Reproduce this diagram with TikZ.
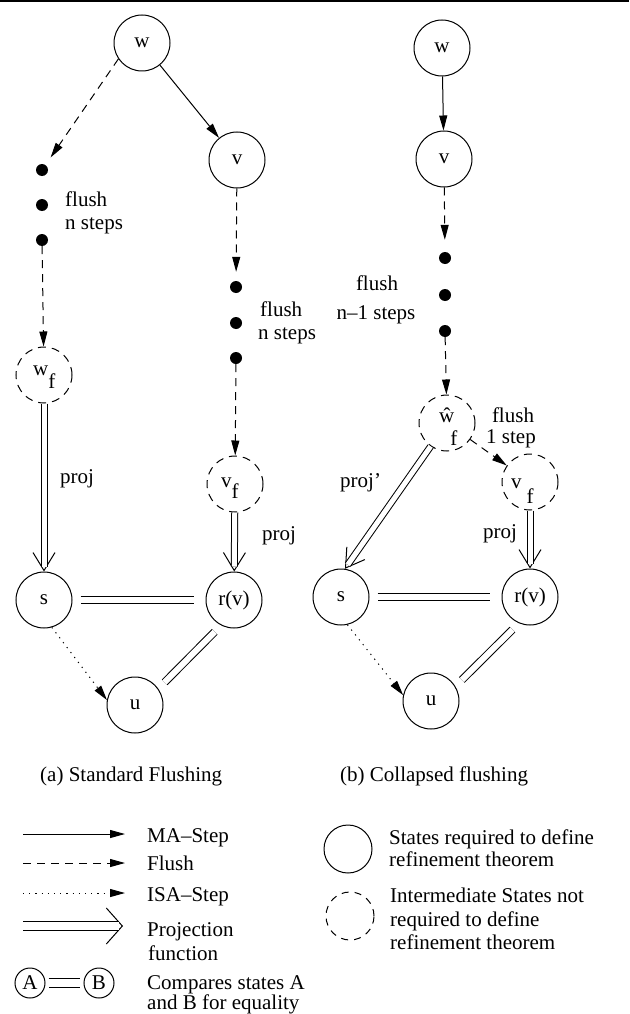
\documentclass[tikz,border=0pt]{standalone}
\usepackage{fontspec}
\setmainfont{Liberation Serif}
\usetikzlibrary{arrows.meta}

\begin{document}
\begin{tikzpicture}[x=1pt, y=-1pt,
  every node/.style={font=\fontsize{21}{23}\selectfont},
  state/.style={circle, draw, line width=1pt, minimum size=56pt, inner sep=0pt},
  istate/.style={state, dash pattern=on 8pt off 6pt},
  keystate/.style={circle, draw, line width=1pt, minimum size=48pt, inner sep=0pt},
  ikeystate/.style={keystate, dash pattern=on 7pt off 6pt},
  small/.style={circle, draw, line width=1pt, minimum size=30pt, inner sep=0pt},
  blob/.style={circle, fill, minimum size=12pt, inner sep=0pt},
  txt/.style={anchor=base west, inner sep=0pt},
  txtc/.style={anchor=base, inner sep=0pt},
  tri/.style={-{Triangle[length=15pt,width=8pt]}},
  ma/.style={line width=1pt, tri},
  flush/.style={line width=1pt, dash pattern=on 8pt off 6pt, tri},
  isa/.style={line width=1pt, dash pattern=on 1.2pt off 5pt, tri},
  eq/.style={line width=1pt, double, double distance=6pt},
  projhead/.style={draw=white, line width=1pt, shorten <=3pt,
    -{Straight Barb[length=18pt,width=22pt,color=black]}},
  projline/.style={line width=1pt, double, double distance=5pt, shorten >=5pt},
]
\useasboundingbox (0,0) rectangle (629,1014);

% rule along the top edge
\draw[line width=2pt] (0,1) -- (629,1);

% ---------------- (a) standard flushing ----------------
\node[state] (lw) at (142,43) {w};
\node[state] (lv) at (237,160) {v};
\node[blob] (ld1) at (42,170) {};
\node[blob] (ld2) at (42,205) {};
\node[blob] (ld3) at (42,240) {};
\node[blob] (lvd1) at (236,287) {};
\node[blob] (lvd2) at (236,323) {};
\node[blob] (lvd3) at (236,358) {};
\node[istate] (lwf) at (44,375) {};
\node[txt] (lwft) at (33,375) {w\raisebox{-13pt}{f}};
\node[istate] (lvf) at (235,484) {};
\node[txt] (lvft) at (221,487) {v\raisebox{-11pt}{f}};
\node[state] (ls) at (44,600) {s};
\node[state] (lr) at (234,600) {r(v)};
\node[state] (lu) at (135,705) {u};

\node[txt] (lfl1) at (65,206) {flush};
\node[txt] (lfl2) at (65,229) {n steps};
\node[txt] (lfr1) at (260,316) {flush};
\node[txt] (lfr2) at (258,339) {n steps};
\node[txt] (lp1) at (60,483) {proj};
\node[txt] (lp2) at (262,540) {proj};

\draw[ma] (lw) -- (lv);
\draw[flush, shorten >=9pt] (lw.214) -- (ld1);
\draw[flush] (ld3) -- (lwf);
\draw[flush, shorten >=9pt] (lv) -- (lvd1);
\draw[flush] (lvd3) -- (lvf);
\draw[projhead] (lwf) -- (ls);
\draw[projline] (lwf) -- (ls);
\draw[projhead] (lvf) -- (lr);
\draw[projline] (lvf) -- (lr);
\draw[eq, shorten <=8pt, shorten >=12pt] (ls) -- (lr);
\draw[eq, shorten <=9pt, shorten >=9pt] (lr.243) -- (lu.35);
\draw[isa] (ls.286) -- (lu.170);

\node[txt] (capa) at (40,781) {(a) Standard Flushing};

% ---------------- (b) collapsed flushing ----------------
\node[state] (rw) at (442,48) {w};
\node[state] (rv) at (444,159) {v};
\node[blob] (rd1) at (445,258) {};
\node[blob] (rd2) at (445,295) {};
\node[blob] (rd3) at (445,331) {};
\node[istate] (rwf) at (447,423) {};
\node[txt] (rwft) at (439,422) {\^{w}\hspace{-4pt}\raisebox{-23pt}{f}};
\node[istate] (rvf) at (530,482) {};
\node[txt] (rvft) at (511,488) {v\hspace{5pt}\raisebox{-15pt}{f}};
\node[state] (rs) at (341,597) {s};
\node[state] (rr) at (530,597) {r(v)};
\node[state] (ru) at (431,701) {u};

\node[txtc] (rfl1) at (377,290) {flush};
\node[txtc] (rfl2) at (376,319) {n--1 steps};
\node[txtc] (rfo1) at (513,422) {flush};
\node[txtc] (rfo2) at (511,443) {1 step};
\node[txt] (rp1) at (340,487) {proj'};
\node[txt] (rp2) at (483,538) {proj};

\draw[ma] (rw) -- (rv);
\draw[flush, shorten >=12pt] (rv) -- (rd1);
\draw[flush] (rd3) -- (rwf);
\draw[flush] (rwf) -- (rvf);
\draw[projhead] (rwf.235) -- (rs.82);
\draw[projline] (rwf.235) -- (rs.82);
\draw[projhead] (rvf) -- (rr);
\draw[projline] (rvf) -- (rr);
\draw[eq, shorten <=8pt, shorten >=12pt] (rs) -- (rr);
\draw[eq, shorten <=9pt, shorten >=9pt] (rr.247) -- (ru.31);
\draw[isa] (rs.283) -- (ru.168);

\node[txt] (capb) at (340,781) {(b) Collapsed flushing};

% ---------------- key ----------------
\coordinate (k1a) at (23,834);  \coordinate (k1b) at (125,834);
\coordinate (k2a) at (23,863);  \coordinate (k2b) at (125,863);
\coordinate (k3a) at (23,893);  \coordinate (k3b) at (125,893);
\coordinate (k4a) at (23,926);  \coordinate (k4b) at (123,926);
\draw[ma] (k1a) -- (k1b);
\draw[flush] (k2a) -- (k2b);
\draw[isa] (k3a) -- (k3b);
\draw[draw=white, line width=1pt, -{Straight Barb[length=16pt,width=36pt,color=black]}] (k4a) -- (k4b);
\draw[line width=1pt, double, double distance=8pt, shorten >=4.5pt] (k4a) -- (k4b);
\node[txt] (kt1) at (147,842) {MA--Step};
\node[txt] (kt2) at (147,870) {Flush};
\node[txt] (kt3) at (147,901) {ISA--Step};
\node[txt] (kt4) at (147,936) {Projection};
\node[txt] (kt5) at (148,960) {function};

\node[small] (ka) at (30,983) {A};
\node[small] (kb) at (99,983) {B};
\draw[line width=1pt, double, double distance=7.5pt, shorten <=3pt, shorten >=4pt] (ka) -- (kb);
\node[txt] (kt6) at (147,989) {Compares states A};
\node[txt] (kt7) at (147,1009) {and B for equality};

\node[keystate] (kc1) at (348,849) {};
\node[txt] (kt8) at (389,844) {States required to define};
\node[txt] (kt9) at (389,866) {refinement theorem};
\node[ikeystate] (kc2) at (350,916) {};
\node[txt] (kt10) at (390,902) {Intermediate States not};
\node[txt] (kt11) at (390,926) {required to define};
\node[txt] (kt12) at (390,949) {refinement theorem};
\end{tikzpicture}
\end{document}
